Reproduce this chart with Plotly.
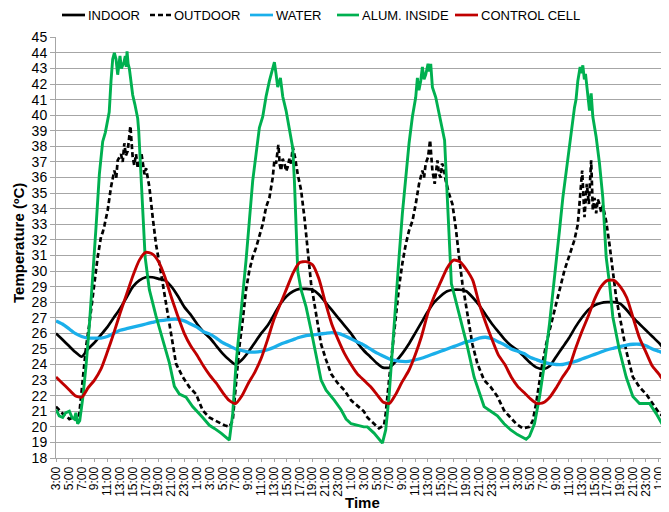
import plotly.graph_objects as go

# ---------------- data (hours since 3:00 of day 1) ----------------
HOURS = list(range(97))

INDOOR = [
    26.0, 25.6, 25.2, 24.8, 24.5, 25.0, 25.4, 25.9, 26.4, 27.0, 27.6, 28.3, 29.0, 29.4, 29.6, 29.6, 29.5, 29.4, 29.0, 28.4, 27.7, 27.2, 26.6, 26.1,
    25.7, 25.2, 24.7, 24.3, 24.0, 24.3, 24.8, 25.4, 26.0, 26.5, 27.2, 27.9, 28.4, 28.7, 28.85, 28.85, 28.8, 28.5, 28.0, 27.5, 27.0, 26.5, 26.0, 25.4,
    24.9, 24.5, 24.1, 23.8, 23.8, 24.2, 24.7, 25.3, 26.0, 26.7, 27.4, 28.0, 28.4, 28.7, 28.8, 28.8, 28.7, 28.3, 27.8, 27.2, 26.6, 26.1, 25.6, 25.2,
    24.9, 24.5, 24.1, 23.8, 23.7, 23.9, 24.5, 25.1, 25.7, 26.4, 27.0, 27.5, 27.8, 27.95, 28.0, 28.0, 27.9, 27.5, 27.0, 26.6, 26.2, 25.8, 25.4, 24.9,
    24.5,
]

WATER = [
    26.8, 26.6, 26.3, 26.0, 25.8, 25.7, 25.7, 25.7, 25.8, 26.0, 26.2, 26.3, 26.4, 26.5, 26.6, 26.7, 26.8, 26.85, 26.9, 26.9, 26.8, 26.6, 26.4, 26.1,
    25.95, 25.7, 25.4, 25.2, 25.0, 24.9, 24.8, 24.8, 24.85, 24.95, 25.1, 25.3, 25.45, 25.6, 25.75, 25.85, 25.9, 25.95, 26.0, 26.05, 26.0, 25.85, 25.65, 25.45,
    25.25, 25.0, 24.75, 24.55, 24.35, 24.25, 24.2, 24.2, 24.3, 24.4, 24.55, 24.7, 24.85, 25.0, 25.15, 25.3, 25.45, 25.55, 25.7, 25.75, 25.65, 25.45, 25.25, 25.0,
    24.85, 24.7, 24.45, 24.3, 24.15, 24.05, 24.0, 24.0, 24.1, 24.2, 24.35, 24.5, 24.65, 24.8, 24.95, 25.05, 25.15, 25.25, 25.3, 25.3, 25.2, 25.0, 24.85, 24.7,
    24.5,
]

CONTROL = [
    23.2, 22.8, 22.4, 22.0, 21.9, 22.5, 23.0, 23.7, 24.8, 26.0, 27.3, 28.5, 29.7, 30.7, 31.2, 31.1, 30.6, 29.6, 28.3, 27.1, 26.0, 25.2, 24.6, 23.9,
    23.3, 22.8, 22.2, 21.7, 21.5, 22.0, 22.8, 23.5, 24.4, 25.6, 26.9, 27.9, 28.9, 29.9, 30.55, 30.6, 30.4, 29.5, 28.0, 26.6, 25.6, 24.7, 24.0, 23.4,
    23.0, 22.6, 22.1, 21.6, 21.5, 22.1, 22.9, 23.6, 24.6, 25.8, 27.3, 28.4, 29.3, 30.2, 30.7, 30.6, 30.1, 29.4, 27.9, 26.7, 25.6, 24.6, 24.0, 23.2,
    22.6, 22.2, 21.8, 21.5, 21.55, 21.9, 22.5, 23.2, 23.8, 25.0, 26.1, 27.1, 28.2, 29.0, 29.4, 29.4, 29.0, 28.3, 27.0, 25.7, 24.8, 23.9, 23.4, 22.8,
    22.3,
]

OUTDOOR_T = [
    0.0, 0.5, 1.04, 1.6, 2.08, 2.7, 3.38, 3.64, 4.16, 4.68, 5.2, 5.72, 6.1, 6.5, 7.02, 7.3, 7.54, 8.06, 8.58, 9.1, 9.4, 9.62, 10.14, 10.4,
    10.66, 10.9, 11.18, 11.44, 11.6, 11.96, 12.2, 12.48, 12.75, 13.0, 13.3, 13.52, 13.8, 14.04, 14.3, 14.56, 15.08, 15.6, 16.12, 16.64,
    17.16, 17.68, 18.2, 18.72, 19.76, 20.8, 21.84, 22.88, 23.92,
    25.22, 26.26, 27.04, 27.56, 28.08, 28.6, 29.12, 29.64, 30.16, 30.68, 31.2, 31.72, 32.24, 32.76, 33.28, 33.8, 34.06, 34.32, 34.68,
    34.9, 35.1, 35.35, 35.62, 35.9, 36.14, 36.4, 36.66, 36.92, 37.28, 37.7, 38.22, 38.74, 39.26, 39.78, 40.3, 40.82, 41.34, 42.12,
    42.9, 43.94, 44.98, 46.02, 47.06, 48.0,
    48.56, 49.6, 50.38, 51.16, 51.42, 51.94, 52.46, 52.98, 53.5, 54.02, 54.54, 55.06, 55.58, 56.1, 56.62, 57.14, 57.4, 57.66, 58.02,
    58.34, 58.7, 59.06, 59.3, 59.48, 59.75, 60.0, 60.2, 60.42, 60.78, 61.3, 61.82, 62.34, 62.86, 63.38, 63.9, 64.42, 64.94, 65.72,
    66.76, 67.8, 68.84, 69.88, 70.92, 71.76,
    72.8, 73.84, 74.36, 74.88, 75.66, 76.44, 77.22, 78.0, 78.78, 79.3, 79.82, 80.34, 80.86, 81.38, 81.74, 82.06, 82.42, 82.78, 83.1,
    83.46, 83.72, 83.98, 84.24, 84.5, 84.76, 85.0, 85.28, 85.55, 85.8, 86.32, 86.84, 87.36, 88.14, 88.92, 89.96, 91.0, 92.04, 93.08,
    94.12, 95.16, 95.6,
]
OUTDOOR = [
    21.3, 21.1, 20.85, 20.7, 20.5, 20.6, 20.4, 20.85, 23.0, 25.1, 26.6, 28.3, 29.6, 30.9, 32.2, 32.5, 32.9, 33.9, 35.4, 36.45, 36.0, 37.1, 37.5, 37.0,
    38.2, 37.4, 37.7, 39.0, 39.3, 37.3, 36.8, 37.5, 36.6, 36.9, 37.6, 37.0, 36.2, 36.6, 35.9, 35.4, 33.45, 31.7, 30.5, 29.2,
    27.9, 26.6, 25.3, 24.05, 23.2, 22.55, 22.1, 21.05, 20.6,
    20.3, 20.1, 20.0, 20.4, 22.8, 25.15, 26.85, 28.8, 30.05, 30.9, 31.5, 32.2, 33.0, 34.1, 34.7, 36.0, 37.1, 36.9, 38.1,
    36.8, 36.45, 37.2, 36.9, 36.4, 36.7, 37.2, 36.9, 37.95, 37.3, 36.2, 35.2, 33.45, 31.3, 29.2, 27.9, 26.6, 25.3, 24.3,
    23.4, 22.8, 22.35, 21.7, 21.3, 21.0,
    20.6, 20.2, 19.9, 20.1, 20.85, 23.0, 25.15, 27.3, 29.0, 30.5, 31.7, 32.6, 33.2, 34.3, 35.6, 36.45, 36.0, 36.9, 37.3,
    38.4, 36.45, 35.6, 36.5, 37.1, 36.2, 36.0, 36.9, 36.7, 35.8, 34.95, 34.3, 32.8, 30.9, 29.2, 27.9, 26.6, 25.3, 24.05,
    23.0, 22.55, 21.95, 21.05, 20.6, 20.2,
    19.9, 20.0, 20.4, 21.5, 23.6, 25.3, 26.6, 27.9, 29.2, 30.05, 30.7, 31.3, 32.0, 33.0, 34.7, 36.45, 33.45, 35.6, 34.3,
    37.1, 33.9, 34.7, 33.7, 34.6, 34.3, 33.8, 34.2, 33.6, 33.2, 31.7, 30.05, 28.3, 26.6, 24.9, 23.2, 22.55, 22.1, 21.5,
    20.85, 20.5, 20.3,
]

ALUM_T = [
    0.0, 0.5, 1.04, 1.5, 2.08, 2.5, 2.86, 3.1, 3.38, 3.7, 4.16, 4.68, 5.2, 5.72, 6.24, 6.76, 7.28, 7.7, 8.06, 8.3, 8.58, 8.84, 9.1,
    9.36, 9.62, 9.8, 9.98, 10.2, 10.4, 10.6, 10.8, 10.95, 11.08, 11.25, 11.44, 11.96, 12.3, 12.74, 12.9, 13.4, 13.9, 14.56, 15.6,
    16.64, 17.68, 18.46, 19.24, 20.28, 21.3, 22.88, 23.92,
    24.7, 25.74, 27.04, 27.56, 28.08, 28.6, 29.12, 29.64, 30.16, 30.68, 31.2, 31.72, 32.24, 32.76, 33.28, 33.8, 34.06, 34.32, 34.58,
    35.0, 35.36, 35.88, 36.4, 36.92, 37.18, 37.44, 37.7, 38.22, 39.0, 39.78, 40.82, 41.34, 42.12, 43.42, 44.46, 45.24, 46.02, 47.06,
    48.0,
    48.56, 49.6, 50.9, 51.42, 51.94, 52.46, 52.98, 53.5, 54.02, 54.54, 55.06, 55.58, 56.1, 56.36, 56.6, 56.88, 57.14, 57.4, 57.66,
    58.02, 58.2, 58.44, 58.7, 59.22, 59.74, 60.26, 60.6, 60.9, 61.3, 61.66, 62.34, 63.12, 64.16, 65.2, 66.24, 66.76, 67.8, 68.84,
    69.88, 70.92, 71.96,
    72.8, 73.32, 73.84, 74.62, 75.4, 76.18, 76.96, 77.74, 78.52, 79.04, 79.82, 80.34, 80.86, 81.1, 81.38, 81.74, 81.95, 82.16, 82.4,
    82.58, 82.94, 83.2, 83.46, 83.72, 84.24, 84.76, 85.28, 85.54, 85.8, 86.32, 86.84, 87.88, 88.92, 89.96, 91.0, 92.56, 93.6, 94.64,
    95.6,
]
ALUM = [
    21.1, 20.7, 20.6, 20.9, 21.0, 20.6, 20.5, 20.9, 20.2, 20.4, 21.8, 23.9, 26.5, 29.4, 32.8, 36.2, 38.3, 38.9, 39.8, 40.2, 42.2, 43.6, 44.0,
    43.6, 42.6, 43.2, 43.8, 43.0, 43.2, 43.4, 43.8, 43.1, 44.1, 43.3, 43.0, 41.3, 40.7, 39.8, 39.0, 34.7, 30.9, 28.8, 27.1,
    25.6, 24.1, 22.6, 22.1, 21.9, 21.3, 20.6, 20.1,
    19.9, 19.6, 19.15, 20.85, 24.05, 26.2, 28.3, 30.7, 33.25, 35.8, 37.5, 39.2, 39.9, 41.2, 42.2, 43.1, 43.4, 42.65, 41.8,
    42.4, 41.2, 40.3, 39.2, 37.9, 35.8, 32.6, 30.0, 28.8, 27.7, 26.2, 24.05, 23.0, 22.35, 21.7, 21.1, 20.5, 20.2, 20.1,
    20.0,
    20.0, 19.6, 18.95, 19.8, 21.95, 25.15, 27.9, 30.9, 33.7, 36.2, 38.2, 39.9, 41.15, 42.4, 41.6, 42.2, 43.1, 42.3, 42.6,
    43.3, 42.8, 43.3, 41.8, 41.15, 40.1, 39.0, 38.4, 35.8, 32.2, 29.2, 28.1, 26.8, 25.15, 23.2, 21.95, 21.3, 21.0, 20.7,
    20.2, 19.8, 19.5,
    19.3, 19.2, 19.4, 20.2, 21.9, 24.05, 26.6, 29.4, 32.6, 34.7, 37.3, 39.0, 40.5, 41.0, 42.2, 43.1, 42.7, 43.2, 42.3,
    42.65, 41.15, 40.3, 41.4, 39.9, 38.6, 36.9, 34.7, 33.0, 30.9, 29.2, 27.05, 24.9, 23.2, 21.95, 21.5, 21.5, 20.85, 20.1,
    19.9,
]

SERIES_NAMES = ["INDOOR", "OUTDOOR", "WATER", "ALUM. INSIDE", "CONTROL CELL"]
TICK_VALS = list(range(0, 96, 2))
TICK_TEXT = [f"{(3 + h) % 24}:00" for h in TICK_VALS]

# ---------------- styling ----------------
FONT = "Liberation Sans, Arial, sans-serif"
BLACK, BLUE, GREEN, RED = "#000000", "#1AAFEA", "#00B050", "#C00000"
GRID = "#A6A6A6"
DASH = "5px,3px"

PAGE_OFF = 8                      # default page margin around the figure
W, H = 669 - PAGE_OFF, 512 - PAGE_OFF
ML, MR, MT, MB = 56 - PAGE_OFF, 0, 37 - PAGE_OFF, 54
PW, PH = W - ML - MR, H - MT - MB


def px_x(page_px):
    return (page_px - PAGE_OFF - ML) / PW


def px_y(page_py):
    return (H - MB - (page_py - PAGE_OFF)) / PH


fig = go.Figure()
fig.add_trace(go.Scatter(x=HOURS, y=INDOOR, name=SERIES_NAMES[0], mode="lines",
                         line=dict(color=BLACK, width=2.7, shape="spline", smoothing=0.6)))
fig.add_trace(go.Scatter(x=OUTDOOR_T, y=OUTDOOR, name=SERIES_NAMES[1], mode="lines",
                         line=dict(color=BLACK, width=2.7, dash=DASH)))
fig.add_trace(go.Scatter(x=HOURS, y=WATER, name=SERIES_NAMES[2], mode="lines",
                         line=dict(color=BLUE, width=3.3, shape="spline", smoothing=0.6)))
fig.add_trace(go.Scatter(x=ALUM_T, y=ALUM, name=SERIES_NAMES[3], mode="lines",
                         line=dict(color=GREEN, width=2.9)))
fig.add_trace(go.Scatter(x=HOURS, y=CONTROL, name=SERIES_NAMES[4], mode="lines",
                         line=dict(color=RED, width=2.9, shape="spline", smoothing=0.6)))

# legend drawn as shapes + text (compact Excel-style entries)
legend_style = [(BLACK, None), (BLACK, DASH), (BLUE, None), (GREEN, None), (RED, None)]
legend_pos = [(62, 85), (150, 171), (250, 273), (337, 359), (455, 478)]
LEG_Y = 15
shapes, annotations = [], []
for name, (col, dash), (x0, x1) in zip(SERIES_NAMES, legend_style, legend_pos):
    shapes.append(dict(type="line", xref="paper", yref="paper",
                       x0=px_x(x0), x1=px_x(x1), y0=px_y(LEG_Y), y1=px_y(LEG_Y),
                       line=dict(color=col, width=2.7, dash=dash or "solid")))
    annotations.append(dict(text=name, xref="paper", yref="paper", x=px_x(x1 + 1), y=px_y(LEG_Y),
                            xanchor="left", yanchor="middle", showarrow=False,
                            font=dict(size=13, family=FONT, color=BLACK)))

annotations.append(dict(text="<b>Time</b>", xref="paper", yref="paper", x=0.5, y=px_y(503),
                        xanchor="center", yanchor="middle", showarrow=False,
                        font=dict(size=15, family=FONT, color=BLACK)))
annotations.append(dict(text="<b>Temperature (ºC)</b>", xref="paper", yref="paper", x=px_x(19), y=px_y(243),
                        xanchor="center", yanchor="middle", showarrow=False, textangle=-90,
                        font=dict(size=15, family=FONT, color=BLACK)))

fig.update_layout(
    width=W, height=H,
    margin=dict(l=ML, r=MR, t=MT, b=MB),
    paper_bgcolor="white", plot_bgcolor="white",
    font=dict(family=FONT, color=BLACK),
    showlegend=False,
    shapes=shapes, annotations=annotations,
    xaxis=dict(range=[0, 95.6], tickmode="array", tickvals=TICK_VALS, ticktext=TICK_TEXT,
               tickangle=-90, tickfont=dict(size=12, family=FONT, color=BLACK),
               showgrid=False, zeroline=False, automargin=False,
               showline=True, linecolor=GRID, linewidth=1,
               ticks="outside", ticklen=3, tickcolor=GRID),
    yaxis=dict(range=[18, 45.02], tickmode="linear", tick0=18, dtick=1,
               tickfont=dict(size=14, family=FONT, color=BLACK),
               showgrid=True, gridcolor=GRID, gridwidth=1, zeroline=False, automargin=False,
               showline=True, linecolor=GRID, linewidth=1,
               ticks="outside", ticklen=5, tickcolor=GRID),
)

fig.write_html("out.html")
